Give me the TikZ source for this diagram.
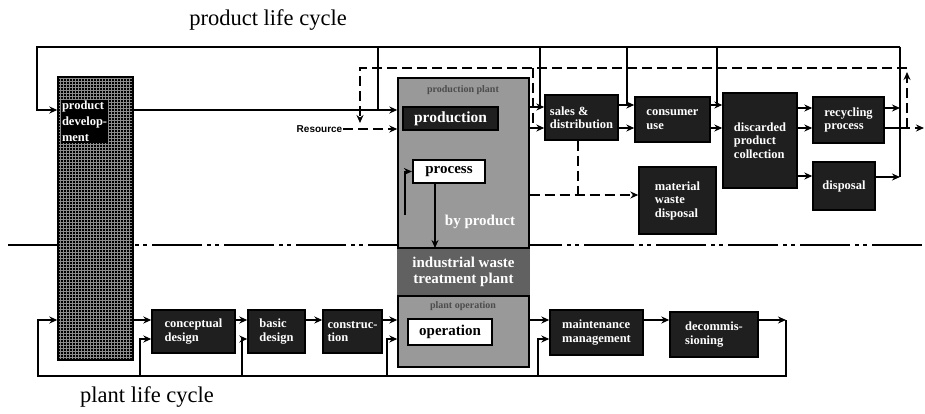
\documentclass[tikz,border=0pt]{standalone}
\usepackage{fontspec}
\setmainfont{Liberation Serif}
\setsansfont{Liberation Sans}
\usetikzlibrary{arrows.meta,patterns}

\begin{document}
\begin{tikzpicture}[x=1pt,y=-1pt,line width=1.4pt,
	>={Stealth[length=8pt,width=7pt]},
	dashline/.style={dash pattern=on 10pt off 5pt},
	dashdotline/.style={line width=1.2pt,dash pattern=on 50pt off 5pt on 4pt off 4pt on 4pt off 5pt},
	darkbox/.style={draw=black,fill=black!88,text=white,align=left,inner sep=2pt,
		font=\fontsize{12.5}{13.5}\selectfont\bfseries},
	devbox/.style={draw=black,preaction={fill=black},pattern=grid,pattern color=white!55!black},
	plantbox/.style={draw=black,fill=black!40},
	whitebox/.style={draw=black,line width=2.2pt,fill=white,inner sep=1pt,
		font=\fontsize{15}{16}\selectfont\bfseries},
	plantlbl/.style={text=white,align=center,inner sep=0pt,
		font=\fontsize{15}{16}\selectfont\bfseries},
	title/.style={font=\fontsize{22.5}{25}\selectfont}]
	\useasboundingbox (0,0) rectangle (925,414);
	\coordinate (sepL) at (8,245);
	\coordinate (sepR) at (925,245);
	\draw[dashdotline] (sepL) -- (sepR);
	\node[title] (ptitle) at (268,20) {product life cycle};
	\node[title] (ltitle) at (147,397) {plant life cycle};
	\node[devbox,minimum width=75pt,minimum height=283pt] (dev) at (95.5,218.5) {};
	\node[fill=black,text=white,align=left,inner sep=1pt,anchor=north west,
		font=\fontsize{12.5}{16}\selectfont\bfseries] (devlbl) at ([xshift=3pt,yshift=-23pt]dev.north west) {product\\develop-\\ment};
	\node[plantbox,minimum width=131pt,minimum height=289pt] (plant) at (463.5,222.5) {};
	\fill[black!62] (plant.west|-0,248) rectangle (plant.east|-0,296);
	\draw[line width=2.2pt] (plant.west|-0,248) -- (plant.east|-0,248);
	\draw[line width=2.2pt] (plant.west|-0,296) -- (plant.east|-0,296);
	\node[text=black!70,font=\fontsize{10}{11}\selectfont\bfseries] (plbl) at (463,90) {production plant};
	\node[text=black!70,font=\fontsize{10}{11}\selectfont\bfseries] (olbl) at (463,306) {plant operation};
	\node[darkbox,minimum width=95pt,minimum height=23pt,align=center,line width=2pt,
		font=\fontsize{15.5}{16}\selectfont\bfseries] (prod) at (450.5,118.5) {production};
	\node[whitebox,minimum width=72pt,minimum height=23pt] (proc) at (449,171.5) {process};
	\node[plantlbl] (byprod) at (480,222) {by product};
	\node[plantlbl] (waste) at (463.5,272) {industrial waste\\treatment plant};
	\node[whitebox,minimum width=84pt,minimum height=26pt] (op) at (450,332) {operation};
	\node[darkbox,minimum width=73pt,minimum height=45pt] (sales) at (581.5,117.5) {sales \&\\distribution};
	\node[darkbox,minimum width=75pt,minimum height=45pt] (use) at (672.5,119.5) {consumer\\use};
	\node[darkbox,minimum width=74pt,minimum height=95pt] (disc) at (760,140.5) {discarded\\product\\collection};
	\node[darkbox,minimum width=71pt,minimum height=46pt] (recy) at (848.5,120) {recycling\\process};
	\node[darkbox,minimum width=62pt,minimum height=48pt] (disp) at (844,186) {disposal};
	\node[darkbox,minimum width=77pt,minimum height=67pt] (mat) at (677.5,200.5) {material\\waste\\disposal};
	\node[darkbox,minimum width=83pt,minimum height=43pt] (concept) at (193.5,331.5) {conceptual\\design};
	\node[darkbox,minimum width=57pt,minimum height=43pt] (basic) at (276.5,331.5) {basic\\design};
	\node[darkbox,minimum width=59pt,minimum height=43pt] (constr) at (352.5,331.5) {construc-\\tion};
	\node[darkbox,minimum width=93pt,minimum height=45pt] (maint) at (596.5,332.5) {maintenance\\management};
	\node[darkbox,minimum width=88pt,minimum height=45pt] (decom) at (714,334.5) {decommis-\\sioning};
	\node[anchor=east,inner sep=0pt,font=\sffamily\bfseries\fontsize{10}{12}\selectfont] (res) at (343,129) {Resource};
	\coordinate (fbL) at (37,47);
	\coordinate (fbR) at (900,47);
	\coordinate (j1) at (378,47);
	\coordinate (j2) at (540,47);
	\coordinate (j3) at (627,47);
	\coordinate (j4) at (717,47);
	\coordinate (j5) at (900,177);
	\draw[->] (fbR) -- (fbL) |- (dev.west|-0,110);
	\draw[->] (dev.east|-0,110) -- (plant.west|-0,110);
	\draw (j1) -- (j1|-0,110);
	\draw[->] (plant.east|-0,107) -- (sales.west|-0,107);
	\draw (j2) -- (j2|-0,107);
	\draw[->] (sales.east|-0,105) -- (use.west|-0,105);
	\draw[->] (sales.east|-0,128) -- (use.west|-0,128);
	\draw (j3) -- (j3|-0,105);
	\draw[->] (use.east|-0,105) -- (disc.west|-0,105);
	\draw[->] (use.east|-0,128) -- (disc.west|-0,128);
	\draw (j4) -- (j4|-0,105);
	\draw[->] (disc.east|-0,108) -- (recy.west|-0,108);
	\draw[->] (disc.east|-0,128) -- (recy.west|-0,128);
	\draw[->] (disc.east|-0,176) -- (disp.west|-0,176);
	\draw (fbR) -- (j5);
	\draw[->] (recy.east|-0,108) -- (fbR|-0,108);
	\draw[->] (disp.east|-0,177) -- (j5);
	\draw (recy.east|-0,128) -- (fbR|-0,128);
	\coordinate (outR) at (924,128);
	\coordinate (d1) at (907,68);
	\coordinate (d2) at (360,68);
	\coordinate (d3) at (533,68);
	\draw[dashline,->] (fbR|-0,128) -- (outR);
	\draw[dashline,->] (d1|-0,128) -- ([yshift=-4pt]d1);
	\draw[dashline,->] (d1) -- (d2) -- (d2|-0,123);
	\draw[dashline,->] (res.east) -- (plant.west|-res.east);
	\draw[dashline] (d3) -- (d3|-0,128);
	\draw[dashline,->] (plant.east|-0,128) -- (sales.west|-0,128);
	\draw[dashline] (sales.south-|578,0) -- (578,195);
	\draw[dashline,->] (plant.east|-0,195) -- (mat.west|-0,195);
	\coordinate (p1) at (405,215);
	\draw[->] (p1) |- (proc.west);
	\draw[->] ([xshift=-14pt]proc.south) -- ([xshift=-14pt]proc.south|-0,248);
	\coordinate (bl) at (38,376);
	\coordinate (br) at (786,376);
	\draw[->] (decom.east|-0,320) -- (br|-0,320);
	\draw[->] (br|-0,320) -- (br) -- (bl) |- (dev.west|-0,320);
	\draw[->] (dev.east|-0,320) -- (concept.west|-0,320);
	\draw[->] (concept.east|-0,320) -- (basic.west|-0,320);
	\draw[->] (basic.east|-0,320) -- (constr.west|-0,320);
	\draw[->] (constr.east|-0,320) -- (plant.west|-0,320);
	\draw[->] (plant.east|-0,320) -- (maint.west|-0,320);
	\draw[->] (maint.east|-0,320) -- (decom.west|-0,320);
	\foreach \bx/\tgt in {140/concept,242/basic,387/plant,538/maint}
		\draw[->] (\bx,376) |- (\tgt.west|-0,339);
\end{tikzpicture}
\end{document}
